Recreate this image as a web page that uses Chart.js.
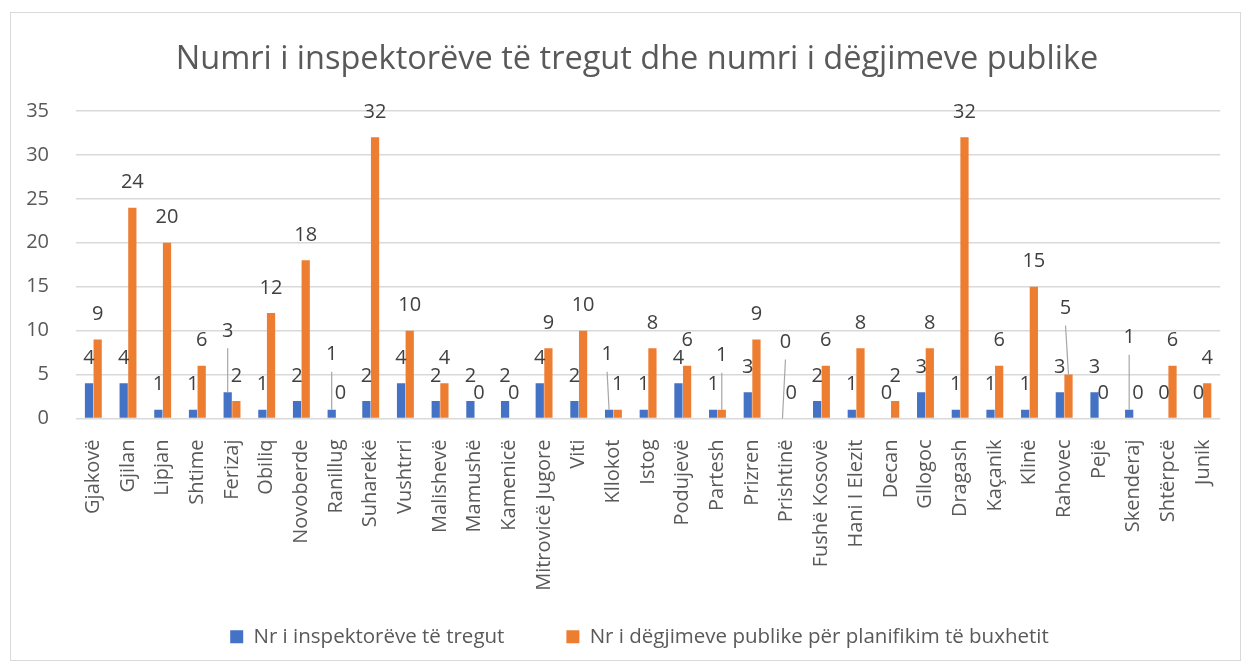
<!DOCTYPE html>
<html>
<head>
<meta charset="utf-8">
<script src="https://cdn.jsdelivr.net/npm/chart.js@4.4.0/dist/chart.umd.min.js"></script>
<style>
  html, body { margin: 0; padding: 0; background: #fff; }
  #frame {
    position: absolute; left: 10px; top: 12px;
    width: 1229px; height: 647px;
    border: 1px solid #d9d9d9;
  }
</style>
</head>
<body>
<div id="frame"><canvas id="chart"></canvas></div>
<script>
const categories = ['Gjakovë', 'Gjilan', 'Lipjan', 'Shtime', 'Ferizaj', 'Obiliq', 'Novoberde', 'Ranillug',
  'Suharekë', 'Vushtrri', 'Malishevë', 'Mamushë', 'Kamenicë', 'Mitrovicë Jugore', 'Viti', 'Kllokot',
  'Istog', 'Podujevë', 'Partesh', 'Prizren', 'Prishtinë', 'Fushë Kosovë', 'Hani I Elezit', 'Decan',
  'Gllogoc', 'Dragash', 'Kaçanik', 'Klinë', 'Rahovec', 'Pejë', 'Skenderaj', 'Shtërpcë', 'Junik'];

const inspectors = [4, 4, 1, 1, 3, 1, 2, 1, 2, 4, 2, 2, 2, 4, 2, 1, 1, 4, 1, 3, 0, 2, 1, 0, 3, 1, 1, 1, 3, 3, 1, 0, 0];
const hearings = [9, 24, 20, 6, 2, 12, 18, 0, 32, 10, 4, 0, 0, 8, 10, 1, 8, 6, 1, 9, 0, 6, 8, 2, 8, 32, 6, 15, 5, 0, 0, 6, 4];

// the source labels Mitrovicë Jugore "9" although its bar stands at 8
const hearingsLabelText = { 13: '9' };

const yTicks = [0, 5, 10, 15, 20, 25, 30, 35];

const textColor = '#595959';
const fontFamily = '"Open Sans", sans-serif';

// labels that Excel pushed up with a leader line: "dataset-index": [dx, lift]
const movedLabels = {
  '0-4': [0, 36],
  '0-7': [0, 30],
  '0-15': [-2, 30],
  '1-18': [0, 29],
  '0-20': [3, 51],
  '1-28': [-3, 41],
  '0-30': [0, 47]
};

const barLabels = {
  id: 'barLabels',
  afterLayout(chart) {
    // Excel's title and legend sit a little right of centre
    chart.legend.left += 27;
    chart.titleBlock.left += 22;
  },
  afterDatasetsDraw(chart) {
    const ctx = chart.ctx;
    ctx.save();
    ctx.font = '20px ' + fontFamily;
    ctx.textAlign = 'center';
    ctx.textBaseline = 'middle';
    chart.data.datasets.forEach((ds, di) => {
      chart.getDatasetMeta(di).data.forEach((bar, i) => {
        let text = String(ds.data[i]);
        if (di === 1 && hearingsLabelText[i]) text = hearingsLabelText[i];
        let x = bar.x;
        let y = bar.y - 25;
        const moved = movedLabels[di + '-' + i];
        if (moved) {
          x += moved[0];
          y -= moved[1];
          ctx.strokeStyle = '#a6a6a6';
          ctx.lineWidth = 1.2;
          ctx.beginPath();
          ctx.moveTo(x, y + 17);
          ctx.lineTo(bar.x, bar.y);
          ctx.stroke();
        }
        ctx.fillStyle = '#404040';
        ctx.fillText(text, x, y);
      });
    });
    ctx.restore();
  }
};

new Chart(document.getElementById('chart'), {
  type: 'bar',
  data: {
    labels: categories,
    datasets: [
      {
        label: 'Nr i inspektorëve të tregut',
        data: inspectors,
        backgroundColor: '#4472C4'
      },
      {
        label: 'Nr i dëgjimeve publike për planifikim të buxhetit',
        data: hearings,
        backgroundColor: '#ED7D31'
      }
    ]
  },
  options: {
    responsive: true,
    maintainAspectRatio: false,
    animation: false,
    datasets: {
      bar: { categoryPercentage: 0.5, barPercentage: 0.95 }
    },
    layout: { padding: { left: 10, right: 9, top: 0, bottom: 3 } },
    plugins: {
      title: {
        display: true,
        text: 'Numri i inspektorëve të tregut dhe numri i dëgjimeve publike',
        color: textColor,
        font: { family: fontFamily, size: 32.5, weight: 'normal' },
        padding: { top: 27, bottom: 32 }
      },
      legend: {
        position: 'bottom',
        labels: {
          color: textColor,
          font: { family: fontFamily, size: 20.5 },
          boxWidth: 13,
          boxHeight: 13,
          padding: 62
        }
      },
      tooltip: { enabled: false }
    },
    scales: {
      x: {
        grid: { display: false },
        border: { display: false },
        ticks: {
          color: textColor,
          font: { family: fontFamily, size: 20 },
          minRotation: 90,
          maxRotation: 90,
          autoSkip: false,
          padding: 13
        },
        afterFit: scale => {
          scale.height = 146;
          // long names run past the axis box into the space above the legend
          scale._computeLabelArea = () => undefined;
        }
      },
      y: {
        min: 0,
        max: 35,
        afterBuildTicks: scale => { scale.ticks = yTicks.map(v => ({ value: v })); },
        grid: { color: '#d9d9d9', lineWidth: 1.5, drawTicks: false },
        border: { display: false },
        ticks: {
          color: textColor,
          font: { family: fontFamily, size: 20 },
          padding: 27
        },
        afterFit: scale => { scale.width = 55; }
      }
    }
  },
  plugins: [barLabels]
});
</script>
</body>
</html>
